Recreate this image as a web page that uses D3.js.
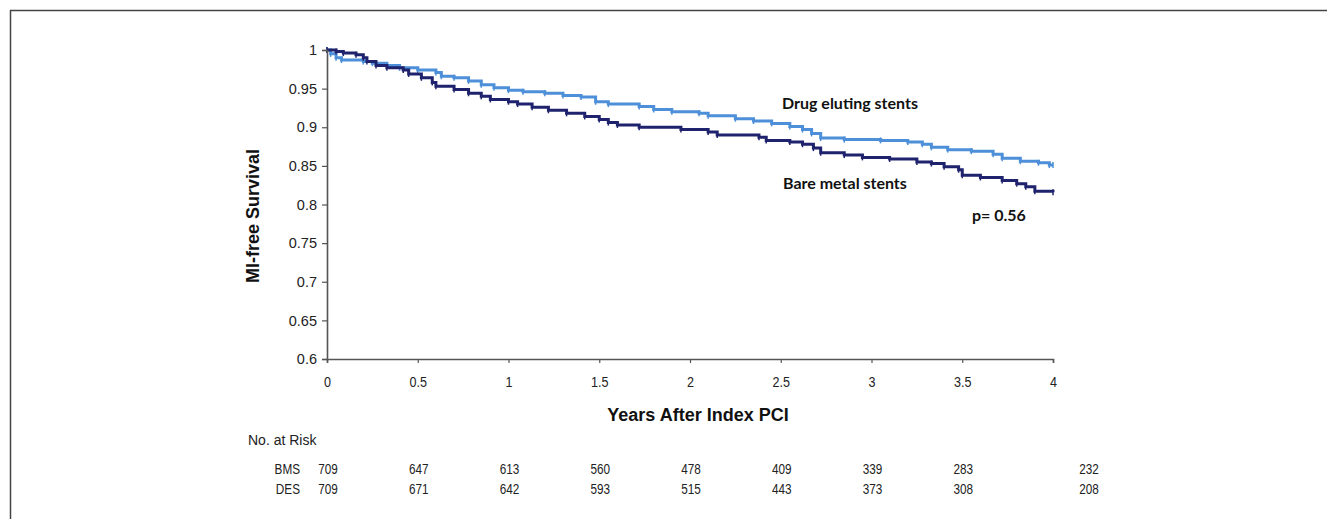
<!DOCTYPE html>
<html>
<head>
<meta charset="utf-8">
<script src="https://cdn.jsdelivr.net/npm/d3@7"></script>
<style>
  body { margin: 0; background: #fff; }
  svg { display: block; font-family: "Liberation Sans", Arial, sans-serif; }
</style>
</head>
<body>
<svg id="chart" width="1327" height="519"></svg>
<script>
// Kaplan-Meier step points (years, survival)
const desTimes = [0, 0.02, 0.05, 0.08, 0.2, 0.25, 0.33, 0.4, 0.5, 0.6, 0.63, 0.7, 0.78, 0.85, 0.92, 1.0, 1.08, 1.2, 1.3, 1.4, 1.48, 1.55, 1.72, 1.8, 1.9, 2.05, 2.1, 2.25, 2.35, 2.45, 2.55, 2.62, 2.67, 2.72, 2.85, 3.05, 3.2, 3.28, 3.33, 3.42, 3.55, 3.67, 3.72, 3.82, 3.92, 3.98, 4.0];
const desSurv  = [1.0, 0.995, 0.99, 0.987, 0.985, 0.983, 0.98, 0.977, 0.974, 0.971, 0.966, 0.964, 0.96, 0.955, 0.951, 0.948, 0.946, 0.944, 0.941, 0.939, 0.933, 0.93, 0.927, 0.923, 0.92, 0.918, 0.915, 0.911, 0.908, 0.905, 0.901, 0.897, 0.892, 0.886, 0.884, 0.883, 0.881, 0.878, 0.874, 0.871, 0.869, 0.865, 0.86, 0.856, 0.854, 0.851, 0.851];

const bmsTimes = [0, 0.05, 0.09, 0.16, 0.2, 0.22, 0.27, 0.33, 0.42, 0.45, 0.52, 0.58, 0.6, 0.7, 0.78, 0.85, 0.9, 1.0, 1.05, 1.13, 1.22, 1.32, 1.42, 1.5, 1.55, 1.6, 1.72, 1.95, 2.1, 2.15, 2.38, 2.42, 2.55, 2.62, 2.68, 2.72, 2.85, 2.95, 3.1, 3.25, 3.33, 3.4, 3.48, 3.5, 3.6, 3.72, 3.8, 3.85, 3.9, 4.0];
const bmsSurv  = [1.0, 0.998, 0.996, 0.994, 0.99, 0.985, 0.98, 0.977, 0.974, 0.969, 0.964, 0.958, 0.953, 0.949, 0.944, 0.94, 0.936, 0.933, 0.93, 0.926, 0.922, 0.918, 0.914, 0.91, 0.906, 0.903, 0.9, 0.897, 0.894, 0.89, 0.887, 0.883, 0.881, 0.878, 0.873, 0.867, 0.864, 0.861, 0.859, 0.855, 0.853, 0.849, 0.845, 0.838, 0.835, 0.831, 0.827, 0.823, 0.817, 0.816];

const xTicks = [0, 0.5, 1, 1.5, 2, 2.5, 3, 3.5, 4];
const yTicks = [0.6, 0.65, 0.7, 0.75, 0.8, 0.85, 0.9, 0.95, 1];

const riskGroups = ["BMS", "DES"];
const riskBMS = [709, 647, 613, 560, 478, 409, 339, 283, 232];
const riskDES = [709, 671, 642, 593, 515, 443, 373, 308, 208];

const desColor = "#4d8fd8";
const bmsColor = "#1f226c";
const narrow = 0.84; // fake Arial Narrow by squeezing Liberation Sans

const svg = d3.select("#chart");

// outer frame (only top and left edges show)
svg.append("line").attr("x1", 10).attr("x2", 1327).attr("y1", 10.5).attr("y2", 10.5)
    .attr("stroke", "#444").attr("stroke-width", 1.5);
svg.append("line").attr("x1", 10.5).attr("x2", 10.5).attr("y1", 10).attr("y2", 519)
    .attr("stroke", "#444").attr("stroke-width", 1.5);

const x = d3.scaleLinear().domain([0, 4]).range([327, 1053]);
const y = d3.scaleLinear().domain([0.6, 1]).range([359, 50]);

const line = d3.line()
    .x(d => x(d.t))
    .y(d => y(d.s))
    .curve(d3.curveStepAfter);

const des = desTimes.map((t, i) => ({ t: t, s: desSurv[i] }));
const bms = bmsTimes.map((t, i) => ({ t: t, s: bmsSurv[i] }));

function drawCurve(data, color) {
    svg.append("path").datum(data)
        .attr("fill", "none").attr("stroke", color).attr("stroke-width", 3)
        .attr("d", line);
    // little censor ticks at each step
    svg.selectAll(null).data(data).enter().append("line")
        .attr("x1", d => x(d.t)).attr("x2", d => x(d.t))
        .attr("y1", d => y(d.s) - 3).attr("y2", d => y(d.s) + 3)
        .attr("stroke", color).attr("stroke-width", 1.5);
}
drawCurve(des, desColor);
drawCurve(bms, bmsColor);

// axes
const yAxis = svg.append("g")
    .attr("transform", `translate(${x(0)},0)`)
    .call(d3.axisLeft(y).tickValues(yTicks).tickSize(5).tickPadding(5).tickFormat(d => String(+d.toFixed(2))));
const xAxis = svg.append("g")
    .attr("transform", `translate(0,${y(0.6)})`)
    .call(d3.axisBottom(x).tickValues(xTicks).tickSize(4).tickFormat(d => String(d)));

[xAxis, yAxis].forEach(g => {
    g.select(".domain").attr("stroke", "#555").attr("stroke-width", 1.6);
    g.selectAll(".tick line").attr("stroke", "#555").attr("stroke-width", 1.2);
});
yAxis.selectAll(".tick text").attr("fill", "#222").style("font-size", "14.5px")
    .style("font-family", "'Liberation Sans', Arial, sans-serif");
xAxis.selectAll(".tick text")
    .attr("y", null).attr("dy", null)
    .attr("transform", `translate(0,28) scale(${narrow},1)`)
    .attr("fill", "#222").style("font-size", "15px")
    .style("font-family", "'Liberation Sans', Arial, sans-serif");

// axis titles
svg.append("text")
    .attr("transform", "translate(259,216) rotate(-90)")
    .attr("text-anchor", "middle")
    .style("font-size", "18px").style("font-weight", "bold").attr("fill", "#111")
    .text("MI-free Survival");

svg.append("text")
    .attr("transform", "translate(698,421)")
    .attr("text-anchor", "middle")
    .style("font-size", "18px").style("font-weight", "bold").attr("fill", "#111")
    .text("Years After Index PCI");

// curve labels
const labelFont = "Lato, 'Open Sans', sans-serif";
[["Drug eluting stents", 782, 109], ["Bare metal stents", 783, 189], ["p= 0.56", 972, 221]].forEach(l => {
    svg.append("text").attr("x", l[1]).attr("y", l[2])
        .style("font-family", labelFont).style("font-size", "16px").style("font-weight", "bold").attr("fill", "#111")
        .text(l[0]);
});

// number at risk table
svg.append("text").attr("transform", "translate(248,445)")
    .style("font-size", "14px").attr("fill", "#222")
    .text("No. at Risk");

const riskCol = (i) => i === xTicks.length - 1 ? x(xTicks[i]) + 35 : x(xTicks[i]);
[riskBMS, riskDES].forEach((row, r) => {
    const yy = 474 + r * 20;
    svg.append("text").attr("transform", `translate(300,${yy}) scale(${narrow},1)`)
        .attr("text-anchor", "end").style("font-size", "14px").attr("fill", "#222")
        .text(riskGroups[r]);
    svg.selectAll(null).data(row).enter().append("text")
        .attr("transform", (d, i) => `translate(${riskCol(i) + 1},${yy}) scale(${narrow},1)`)
        .attr("text-anchor", "middle")
        .style("font-size", "14px").attr("fill", "#222")
        .text(d => d);
});
</script>
</body>
</html>
